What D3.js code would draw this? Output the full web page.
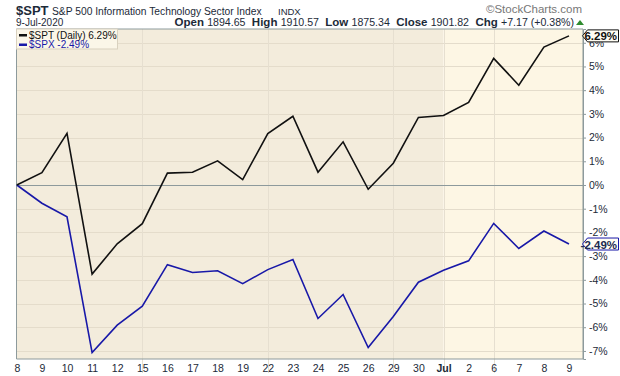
<!DOCTYPE html>
<html>
<head>
<meta charset="utf-8">
<script src="https://cdn.jsdelivr.net/npm/d3@7"></script>
<style>
  body { margin: 0; background: #fff; }
  svg { display: block; font-family: "Liberation Sans", Arial, sans-serif; }
</style>
</head>
<body>
<div id="chart"></div>
<script>
// trading days, June 8 - July 9 2020
const dates = ["8","9","10","11","12","15","16","17","18","19","22","23","24","25","26","29","30","Jul","2","6","7","8","9"]
// % change from the first close
const spt = [0,0.52,2.18,-3.76,-2.48,-1.63,0.50,0.54,1.02,0.23,2.17,2.90,0.54,1.82,-0.18,0.92,2.85,2.93,3.48,5.34,4.21,5.82,6.29]
const spx = [0,-0.77,-1.34,-7.07,-5.91,-5.11,-3.36,-3.69,-3.62,-4.16,-3.57,-3.14,-5.63,-4.62,-6.86,-5.55,-4.10,-3.60,-3.20,-1.62,-2.68,-1.94,-2.49]
const yTicks = [6,5,4,3,2,1,0,-1,-2,-3,-4,-5,-6,-7]
const weekStarts = [5,10,15,19] // Mondays
const monthStart = 17
const quote = [["Open","1894.65"],["High","1910.57"],["Low","1875.34"],["Close","1901.82"],["Chg","+7.17 (+0.38%)"]]

const width = 620, height = 376
const pLeft = 16.5, pRight = 583, pTop = 29, pBottom = 359

const svg = d3.select('#chart').append('svg')
  .attr('width', width)
  .attr('height', height)

const x = d3.scaleLinear().domain([0, dates.length - 1]).range([16.8, 569.0])
const y = d3.scaleLinear().domain([-7.34, 6.58]).range([pBottom, pTop])
const pct = v => v.toFixed(2) + '%'

// shrink/grow a text's font so it spans w pixels
function fitWidth(sel, w) {
  const fs = +sel.attr('font-size')
  const cur = sel.node().getComputedTextLength()
  if (cur > 0) sel.attr('font-size', fs * w / cur)
  return sel
}

// background, June darker than July
svg.append('rect').attr('x', pLeft).attr('y', pTop)
  .attr('width', x(monthStart) - pLeft).attr('height', pBottom - pTop).attr('fill', '#f3ecdc')
svg.append('rect').attr('x', x(monthStart)).attr('y', pTop)
  .attr('width', pRight - x(monthStart)).attr('height', pBottom - pTop).attr('fill', '#fdf6e4')

// grid
svg.append('g').selectAll('line').data(yTicks.filter(d => d !== 0)).join('line')
  .attr('x1', pLeft).attr('x2', pRight)
  .attr('y1', d => Math.round(y(d)) + 0.5).attr('y2', d => Math.round(y(d)) + 0.5)
  .attr('stroke', '#e4dccb').attr('stroke-width', 1)
svg.append('g').selectAll('line').data(weekStarts.concat([monthStart])).join('line')
  .attr('x1', d => Math.round(x(d)) + 0.5).attr('x2', d => Math.round(x(d)) + 0.5)
  .attr('y1', pTop).attr('y2', pBottom + 14)
  .attr('stroke', '#e6dfd0').attr('stroke-width', 1)
svg.append('line')
  .attr('x1', pLeft).attr('x2', pRight)
  .attr('y1', Math.round(y(0)) + 0.5).attr('y2', Math.round(y(0)) + 0.5)
  .attr('stroke', '#8d9a9c').attr('stroke-width', 1)

// frame
svg.append('path')
  .attr('d', `M${pLeft},${pTop}H${pRight}V${pBottom}H${pLeft}Z`)
  .attr('fill', 'none').attr('stroke', '#8d9a9c').attr('stroke-width', 1)

// right axis
const yAxis = d3.axisRight(y).tickValues(yTicks).tickSize(3).tickPadding(3)
  .tickFormat(d => String(d) + '%')
svg.append('g').attr('transform', `translate(${pRight},0)`).call(yAxis)
  .call(g => g.select('.domain').attr('stroke', '#8d9a9c'))
  .call(g => g.selectAll('.tick line').attr('stroke', '#8d9a9c'))
  .call(g => g.selectAll('text').attr('fill', '#1c2a38').attr('font-size', 10.5))

// bottom axis
const xAxis = d3.axisBottom(x).tickValues(d3.range(dates.length)).tickSize(0).tickPadding(6)
  .tickFormat(i => dates[i])
svg.append('g').attr('transform', `translate(0,${pBottom})`).call(xAxis)
  .call(g => g.select('.domain').remove())
  .call(g => g.selectAll('text').attr('fill', '#1c2a38').attr('font-size', 10.5)
    .attr('font-weight', (i) => i === monthStart ? 'bold' : 'normal'))

// lines
const line = d3.line().x((d, i) => x(i)).y(d => y(d))
svg.append('path').datum(spx).attr('d', line)
  .attr('fill', 'none').attr('stroke', '#1818a8').attr('stroke-width', 1.6)
svg.append('path').datum(spt).attr('d', line)
  .attr('fill', 'none').attr('stroke', '#111').attr('stroke-width', 1.6)

// last value tags
function tag(val, color, txtColor) {
  const cy = y(val)
  const g = svg.append('g')
  g.append('path')
    .attr('d', `M${pRight - 0.5},${cy} L${pRight + 4.5},${cy - 6} H618.5 V${cy + 6} H${pRight + 4.5} Z`)
    .attr('fill', '#fffdf4').attr('stroke', color).attr('stroke-width', 1)
  g.append('text').attr('x', 617).attr('y', cy + 4.5).attr('text-anchor', 'end')
    .attr('font-size', 11.5).attr('font-weight', 'bold').attr('fill', txtColor).text(pct(val))
}
tag(spt[spt.length - 1], '#111', '#111')
tag(spx[spx.length - 1], '#1818a8', '#1c2a50')

// legend
const lg = svg.append('g')
lg.append('rect').attr('x', pLeft).attr('y', pTop).attr('width', 101).attr('height', 20)
  .attr('fill', '#fbf6e8').attr('stroke', '#d9d1bf').attr('stroke-width', 1)
const legend = [
  ['$SPT (Daily) ' + pct(spt[spt.length - 1]), '#111'],
  ['$SPX ' + pct(spx[spx.length - 1]), '#1818a8']
]
legend.forEach(([t, c], i) => {
  lg.append('rect').attr('x', 19).attr('y', pTop + 5 + i * 9.5).attr('width', 8).attr('height', 2.5).attr('fill', c)
  lg.append('text').attr('x', 29).attr('y', pTop + 9.5 + i * 9.5).attr('font-size', 10)
    .attr('fill', c).text(t)
})

// header
svg.append('text').attr('x', 16).attr('y', 15).attr('font-size', 13).attr('font-weight', 'bold')
  .attr('fill', '#1c2a38').text('$SPT')
svg.append('text').attr('x', 52).attr('y', 15).attr('font-size', 10.5).attr('fill', '#1c2a38')
  .text('S&P 500 Information Technology Sector Index')
  .call(s => fitWidth(s, 210))
svg.append('text').attr('x', 278).attr('y', 15).attr('font-size', 9.5).attr('fill', '#1c2a38')
  .text('INDX')
svg.append('text').attr('x', 16).attr('y', 26).attr('font-size', 10).attr('fill', '#1c2a38')
  .text('9-Jul-2020')
svg.append('text').attr('x', 582).attr('y', 13).attr('text-anchor', 'end').attr('font-size', 11.5)
  .attr('fill', '#777').text('©StockCharts.com')

const q = svg.append('text').attr('x', 574).attr('y', 26).attr('text-anchor', 'end')
  .attr('fill', '#1c2a38').attr('font-size', 10.6)
  .attr('xml:space', 'preserve').style('white-space', 'pre')
quote.forEach(([k, v], i) => {
  q.append('tspan').attr('font-weight', 'bold').attr('font-size', 11.5).text((i ? '  ' : '') + k + ' ')
  q.append('tspan').text(v)
})
svg.append('path').attr('d', 'M576,25 L580,20 L584,25 Z').attr('fill', '#2e8b2e')
</script>
</body>
</html>
